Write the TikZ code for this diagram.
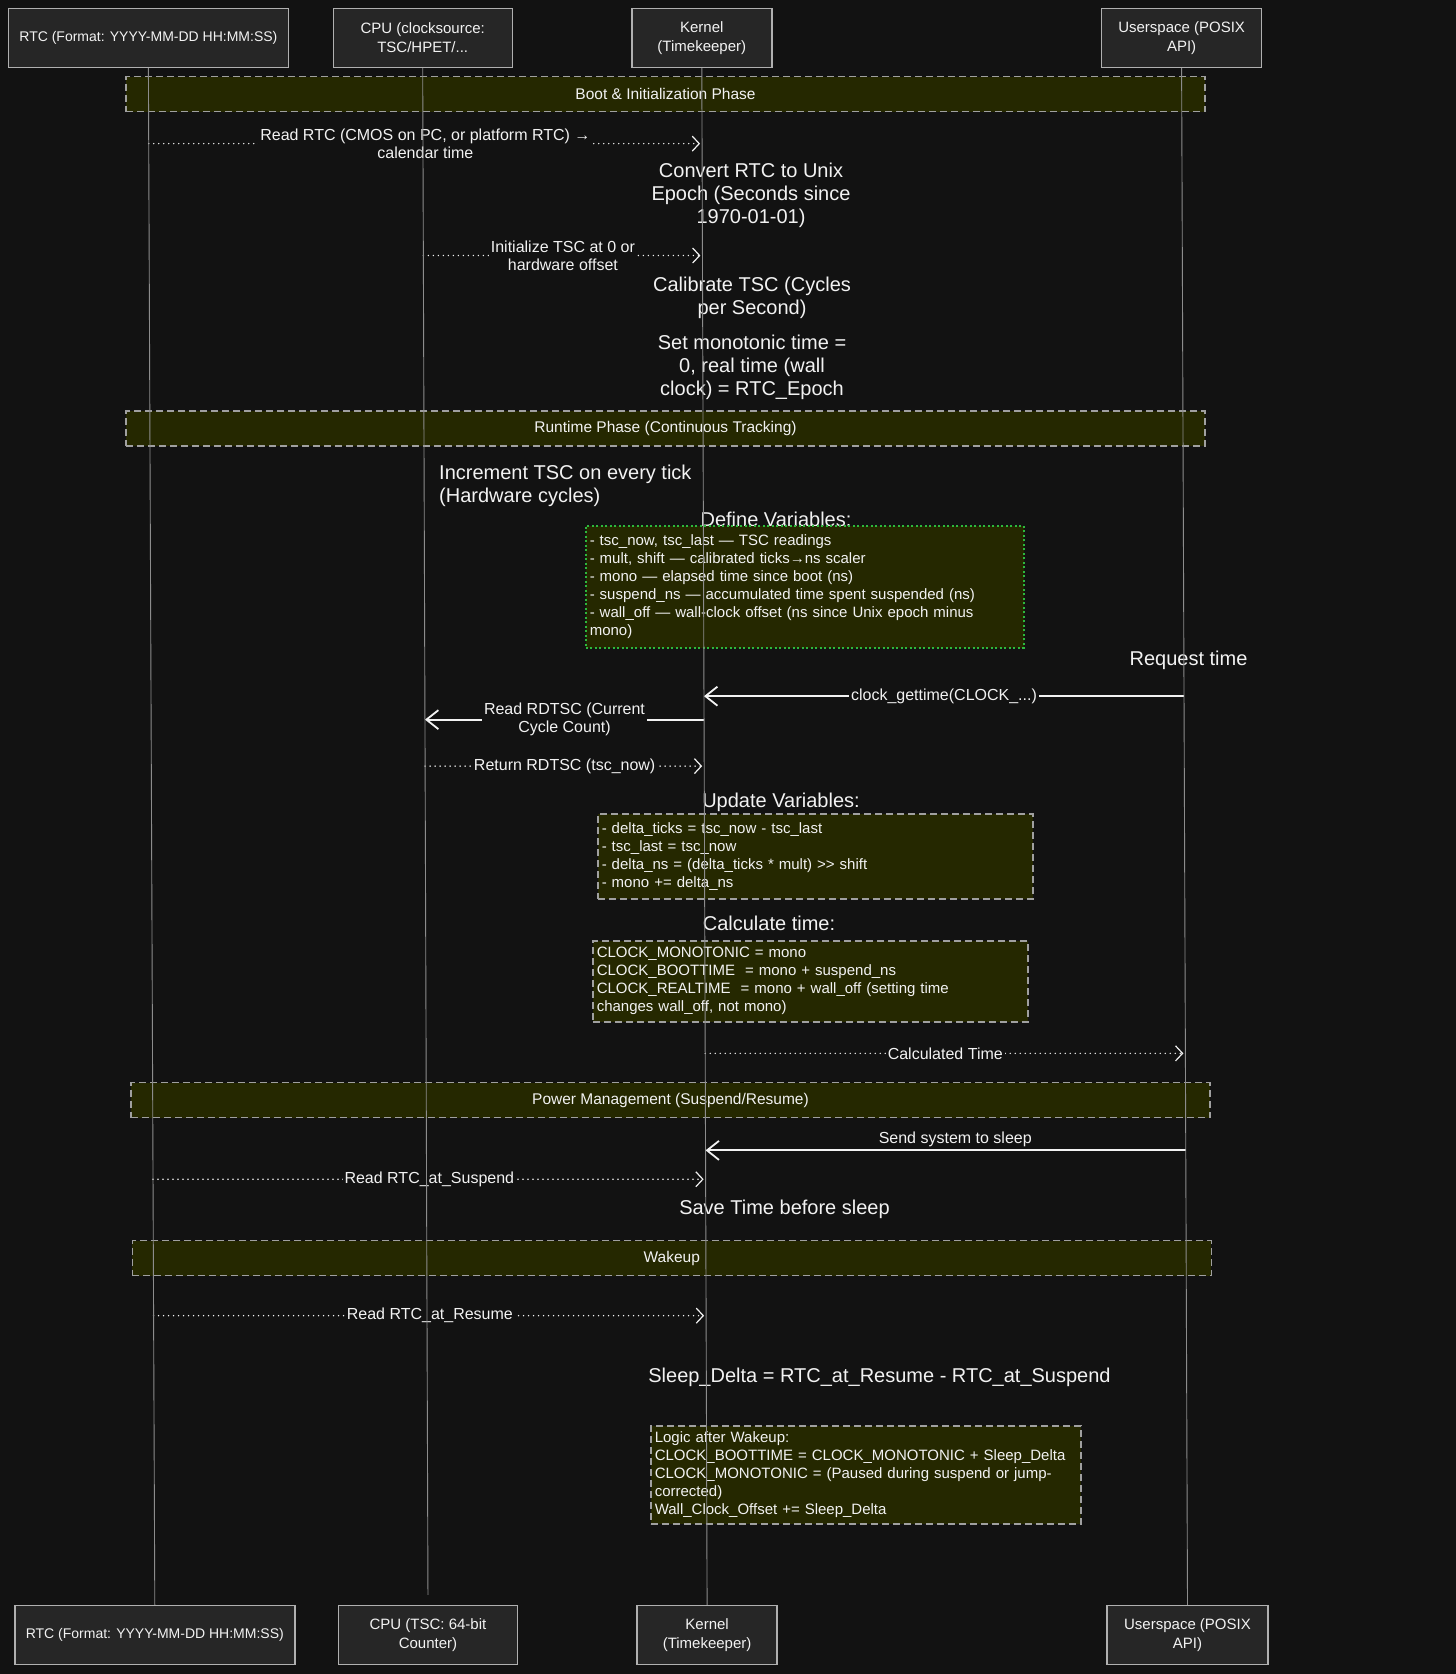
\documentclass[tikz,border=0pt]{standalone}
\usepackage{fontspec}
\setmainfont{Liberation Sans}
\usetikzlibrary{arrows.meta,positioning,calc}
\definecolor{bgc}{HTML}{121212}
\definecolor{ink}{HTML}{F2F2F2}
\definecolor{actfill}{HTML}{262626}
\definecolor{actline}{HTML}{B0B0B0}
\definecolor{olivefill}{HTML}{252800}
\definecolor{dashc}{HTML}{A0A0A0}
\definecolor{greenc}{HTML}{2DB83D}
\definecolor{lifec}{HTML}{8C8C8C}
% point on a lifeline at a given height (px from top)
\newcommand{\onlife}[3]{\coordinate (#1) at ($(#2T.south)!{(#3-67.4)/1538}!(#2B.north)$);}

\begin{document}
\begin{tikzpicture}[x=1pt, y=-1pt,
  actor/.style={draw=actline, fill=actfill, line width=1.4pt, align=center, text=ink,
    font=\fontsize{15}{19}\selectfont, minimum height=59pt, inner sep=2pt},
  phase/.style={draw=dashc, fill=olivefill, line width=1.5pt, dash pattern=on 7pt off 4pt,
    minimum width=1079pt, minimum height=35pt, text=ink, font=\fontsize{15.5}{18}\selectfont},
  big/.style={text=ink, align=center, font=\fontsize{20}{23}\selectfont, inner sep=0pt},
  vars/.style={fill=olivefill, draw=dashc, line width=1.5pt, dash pattern=on 7pt off 4pt,
    anchor=north west, align=left, text=ink, font=\fontsize{15}{18}\selectfont, inner sep=4pt},
  lab/.style={fill=bgc, text=ink, align=center, font=\fontsize{16}{18}\selectfont, inner sep=2pt},
  call/.style={draw=ink, line width=1.8pt, -{Straight Barb[length=12pt,width=19pt]}},
  ret/.style={draw=ink, line width=1.6pt, dash pattern=on 0pt off 5pt, line cap=round,
    shorten >=2pt, -{Straight Barb[length=7pt,width=15pt,line width=1.2pt]}},
  life/.style={draw=lifec, line width=0.9pt}
]
\useasboundingbox (0,0) rectangle (1456,1674);
\fill[bgc] (0,0) rectangle (1456,1674);

% participants
\node[actor, minimum width=280pt, font=\fontsize{14}{19}\selectfont] (rtcT) at (148.4,37.9) {RTC (Format: YYYY-MM-DD HH:MM:SS)};
\node[actor, minimum width=179pt] (cpuT) at (422.7,37.9) {CPU (clocksource:\\TSC/HPET/...};
\node[actor, minimum width=140pt] (kerT) at (701.8,37.9) {Kernel\\(Timekeeper)};
\node[actor, minimum width=160pt] (usrT) at (1181.6,37.9) {Userspace (POSIX\\API)};
\node[actor, minimum width=280pt, font=\fontsize{14}{19}\selectfont] (rtcB) at (154.8,1635) {RTC (Format: YYYY-MM-DD HH:MM:SS)};
\node[actor, minimum width=179pt] (cpuB) at (428,1635) {CPU (TSC: 64-bit\\Counter)};
\node[actor, minimum width=140pt] (kerB) at (707.1,1635) {Kernel\\(Timekeeper)};
\node[actor, minimum width=161pt] (usrB) at (1187.5,1635) {Userspace (POSIX\\API)};

% phases
\node[phase] (boot) at (665.5,94) {Boot \& Initialization Phase};
\node[phase] (run) at (665.5,428.5) {Runtime Phase (Continuous Tracking)};
\node[phase] (power) at (670.5,1100) {Power Management (Suspend/Resume)};
\node[phase] (wake) at (671.8,1258) {Wakeup};

% boot
\onlife{a1s}{rtc}{143} \onlife{a1e}{ker}{143}
\draw[ret] (a1s) -- node[lab] (a1l) {Read RTC (CMOS on PC, or platform RTC) →\\calendar time} (a1e);
\node[big] (conv) at (751,195) {Convert RTC to Unix\\Epoch (Seconds since\\1970-01-01)};
\onlife{a2s}{cpu}{255} \onlife{a2e}{ker}{255}
\draw[ret] (a2s) -- node[lab] (a2l) {Initialize TSC at 0 or\\hardware offset} (a2e);
\node[big] (calib) at (752,298) {Calibrate TSC (Cycles\\per Second)};
\node[big] (setmono) at (752,367) {Set monotonic time =\\0, real time (wall\\clock) = RTC\_Epoch};

% runtime
\node[big, anchor=west, align=left] (incr) at (439,486) {Increment TSC on every tick\\(Hardware cycles)};
\node[big] (defhead) at (776,519) {Define Variables:};
\node[vars, draw=greenc, dash pattern=on 2pt off 2.5pt, minimum width=438pt, minimum height=122pt,
  text width=430pt] (defbox) at (585,525)
  {- tsc\_now, tsc\_last — TSC readings\\
   - mult, shift — calibrated ticks→ns scaler\\
   - mono — elapsed time since boot (ns)\\
   - suspend\_ns — accumulated time spent suspended (ns)\\
   - wall\_off — wall-clock offset (ns since Unix epoch minus\\
   mono)};
\node[big] (req) at (1188.5,660) {Request time};
\onlife{a3s}{usr}{696} \onlife{a3e}{ker}{696}
\draw[call] (a3s) -- node[lab] (a3l) {clock\_gettime(CLOCK\_...)} (a3e);
\onlife{a4s}{ker}{719.5} \onlife{a4e}{cpu}{719.5}
\draw[call] (a4s) -- node[lab] (a4l) {Read RDTSC (Current\\Cycle Count)} (a4e);
\onlife{a5s}{cpu}{766} \onlife{a5e}{ker}{766}
\draw[ret] (a5s) -- node[lab] (a5l) {Return RDTSC (tsc\_now)} (a5e);
\node[big] (updhead) at (781,802) {Update Variables:};
\node[vars, minimum width=435pt, minimum height=85pt, text width=427pt] (updbox) at (597,813)
  {- delta\_ticks = tsc\_now - tsc\_last\\
   - tsc\_last = tsc\_now\\
   - delta\_ns = (delta\_ticks * mult) >{}> shift\\
   - mono += delta\_ns};
\node[big] (calchead) at (769,923) {Calculate time:};
\node[vars, minimum width=435pt, minimum height=81pt, text width=427pt] (calcbox) at (592,940)
  {CLOCK\_MONOTONIC = mono\\
   CLOCK\_BOOTTIME~ = mono + suspend\_ns\\
   CLOCK\_REALTIME~ = mono + wall\_off (setting time\\
   changes wall\_off, not mono)};
\onlife{a6s}{ker}{1053.5} \onlife{a6e}{usr}{1053.5}
\draw[ret] (a6s) -- node[lab] (a6l) {Calculated Time} (a6e);

% suspend
\onlife{a7s}{usr}{1150.6} \onlife{a7e}{ker}{1150.6}
\draw[call] (a7s) -- node[lab, fill=none, above=1pt, pos=0.48] (a7l) {Send system to sleep} (a7e);
\onlife{a8s}{rtc}{1179.5} \onlife{a8e}{ker}{1179.5}
\draw[ret] (a8s) -- node[lab] (a8l) {Read RTC\_at\_Suspend} (a8e);
\node[big] (save) at (784.5,1209) {Save Time before sleep};

% wakeup
\onlife{a9s}{rtc}{1316} \onlife{a9e}{ker}{1316}
\draw[ret] (a9s) -- node[lab] (a9l) {Read RTC\_at\_Resume} (a9e);
\node[big] (delta) at (879.5,1377) {Sleep\_Delta = RTC\_at\_Resume - RTC\_at\_Suspend};
\node[vars, minimum width=430pt, minimum height=98pt, text width=422pt] (logic) at (650,1425)
  {Logic after Wakeup:\\
   CLOCK\_BOOTTIME = CLOCK\_MONOTONIC + Sleep\_Delta\\
   CLOCK\_MONOTONIC = (Paused during suspend or jump-\\
   corrected)\\
   Wall\_Clock\_Offset += Sleep\_Delta};

% lifelines
\draw[life] (rtcT.south) -- (rtcB.north);
\draw[life, shorten >=10pt] (cpuT.south) -- (cpuB.north);
\draw[life] (kerT.south) -- (kerB.north);
\draw[life] (usrT.south) -- (usrB.north);
\end{tikzpicture}
\end{document}
